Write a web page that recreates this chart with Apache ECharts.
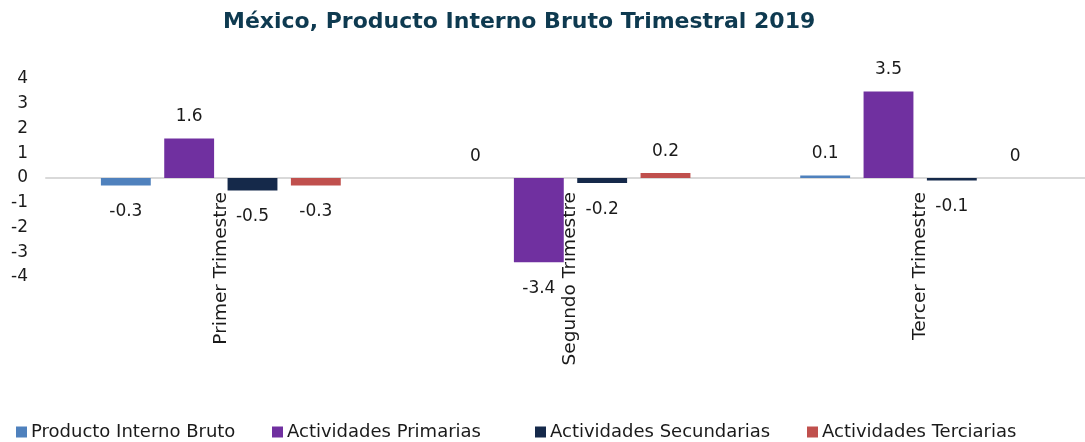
<!DOCTYPE html>
<html>
<head>
<meta charset="utf-8">
<script src="https://cdn.jsdelivr.net/npm/echarts@6/dist/echarts.min.js"></script>
<style>
	html, body { margin: 0; padding: 0; background: #fff; }
	#chart { width: 1085px; height: 442px; }
</style>
</head>
<body>
<div id="chart"></div>
<script>
var categories = ['Primer Trimestre', 'Segundo Trimestre', 'Tercer Trimestre']
var seriesNames = ['Producto Interno Bruto', 'Actividades Primarias', 'Actividades Secundarias', 'Actividades Terciarias']
var pib = [-0.3, 0, 0.1]
var primarias = [1.6, -3.4, 3.5]
var secundarias = [-0.5, -0.2, -0.1]
var terciarias = [-0.3, 0.2, 0]
var yTicks = [-4, -3, -2, -1, 0, 1, 2, 3, 4]

var colors = ['#4f81bd', '#7030a0', '#15294a', '#c0504d']
var legendLeft = [11, 267, 530, 802]
var font = 'DejaVu Sans'
var gridHeight = 198

function _bar(name, values, color) {
	return {
		name: name,
		type: 'bar',
		barGap: '27%',
		barCategoryGap: '31.4%',
		itemStyle: { color: color },
		data: values.map(function(v) {
			return {
				value: v,
				label: {
					show: true,
					position: v < 0 ? 'bottom' : 'top',
					distance: v < 0 ? 18 : 13,
					color: '#1a1a1a',
					fontFamily: font,
					fontSize: 17
				}
			}
		})
	}
}

var allValues = [pib, primarias, secundarias, terciarias]
var series = []
for (var i = 0; i < seriesNames.length; i++) {
	series.push(_bar(seriesNames[i], allValues[i], colors[i]))
}

var legends = seriesNames.map(function(n, i) {
	return {
		data: [n],
		left: legendLeft[i],
		top: 418,
		itemWidth: 11,
		itemHeight: 11,
		icon: 'rect',
		selectedMode: false,
		textStyle: { color: '#1a1a1a', fontFamily: font, fontSize: 18, padding: [0, 0, 0, -1] }
	}
})

var option = {
	animation: false,
	backgroundColor: '#fff',
	title: {
		text: 'México, Producto Interno Bruto Trimestral 2019',
		left: 218,
		top: 6,
		textStyle: {
			color: '#0e3a50',
			fontFamily: font,
			fontWeight: 'bold',
			fontSize: 22
		}
	},
	legend: legends,
	grid: {
		left: 46,
		top: 79,
		width: 1049,
		height: gridHeight,
		containLabel: false,
		outerBoundsMode: 'none'
	},
	xAxis: {
		type: 'category',
		data: categories,
		position: 'bottom',
		// axis sits on the zero line (middle of a symmetric -4..4 range)
		offset: -gridHeight / 2,
		axisLine: { onZero: false, lineStyle: { color: '#d9d9d9', width: 2 } },
		axisTick: { show: false },
		axisLabel: {
			rotate: 90,
			margin: 14,
			color: '#1a1a1a',
			fontFamily: font,
			fontSize: 18.5
		}
	},
	yAxis: {
		type: 'value',
		min: yTicks[0],
		max: yTicks[yTicks.length - 1],
		interval: 1,
		axisLine: { show: false },
		axisTick: { show: false },
		splitLine: { show: false },
		axisLabel: {
			margin: 18,
			color: '#1a1a1a',
			fontFamily: font,
			fontSize: 17
		}
	},
	series: series
}

var myChart = echarts.init(document.getElementById('chart'))
myChart.setOption(option)
</script>
</body>
</html>
